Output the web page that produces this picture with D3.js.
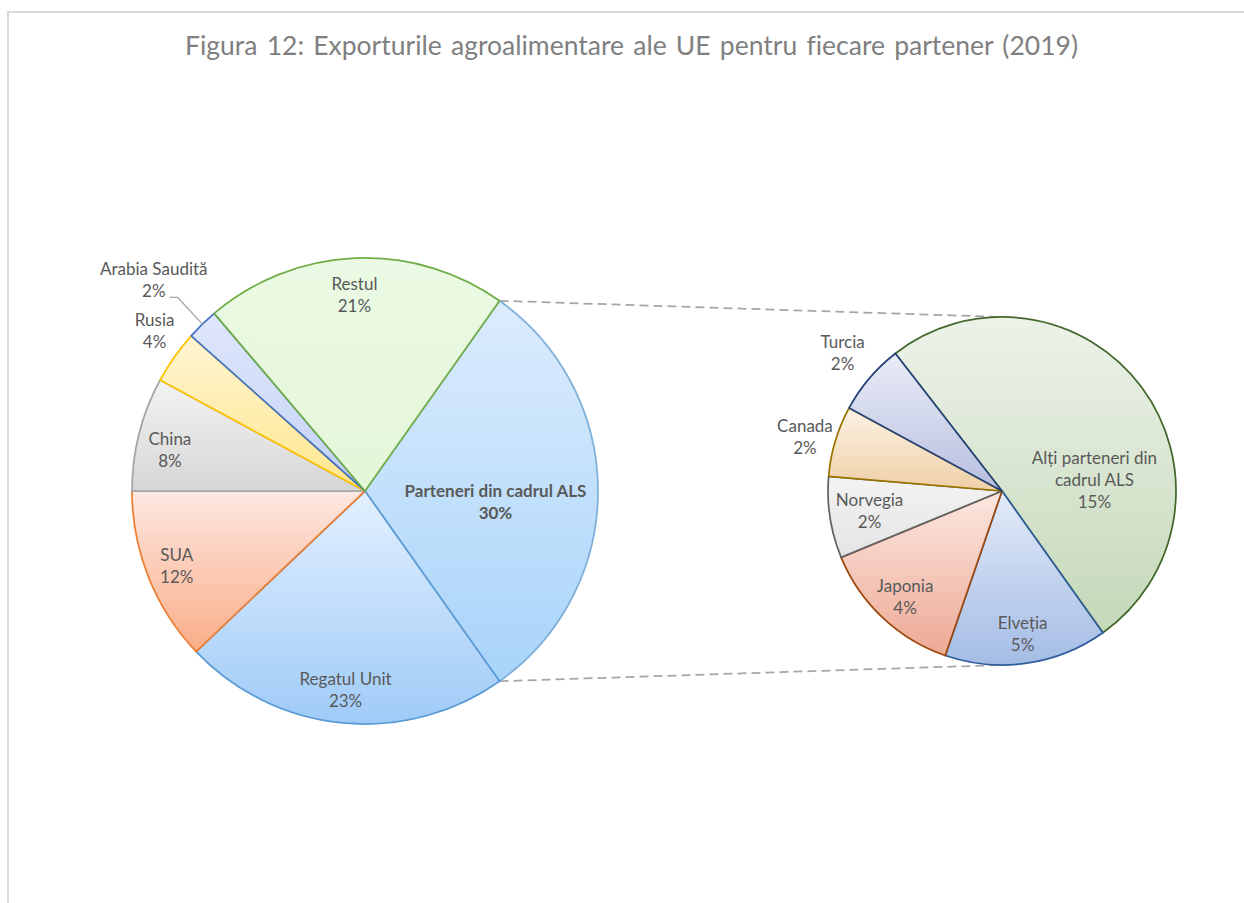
<!DOCTYPE html>
<html>
<head>
<meta charset="utf-8">
<script src="https://cdn.jsdelivr.net/npm/d3@7"></script>
<style>
  body { margin: 0; background: #fff; }
  svg { display: block; font-family: Lato, "Open Sans", sans-serif; font-variant-ligatures: none; }
</style>
</head>
<body>
<svg id="chart"></svg>
<script>
// main pie: EU agri-food exports by partner (2019), % of total
var mainNames  = ["Parteneri din cadrul ALS", "Regatul Unit", "SUA", "China", "Rusia", "Arabia Saudită", "Restul"];
var mainValues = [30.4, 22.7, 12.1, 7.9, 3.7, 2.2, 21.0];

// second pie: breakdown of the FTA partners slice
var subNames  = ["Alți parteneri din cadrul ALS", "Elveția", "Japonia", "Norvegia", "Canada", "Turcia"];
var subValues = [15.4, 4.6, 4.1, 2.3, 2.0, 2.0];

var title = "Figura 12: Exporturile agroalimentare ale UE pentru fiecare partener (2019)";

var width = 1244, height = 903;

// fill gradients (top, bottom) and border colour per slice
var style = {
	"Parteneri din cadrul ALS": ["#dcecfd", "#a8d4fa", "#7fb0da"],
	"Regatul Unit":   ["#e3f0ff", "#9fcbf7", "#5b9bd5"],
	"SUA":            ["#fee8e1", "#f9ad88", "#ed7d31"],
	"China":          ["#f3f3f3", "#d6d6d6", "#a5a5a5"],
	"Rusia":          ["#fff5d2", "#ffe68c", "#ffc000"],
	"Arabia Saudită": ["#dfe7fb", "#c3d1f5", "#4472c4"],
	"Restul":         ["#ebfae4", "#e4f6d8", "#70ad47"],
	"Alți parteneri din cadrul ALS": ["#edf2e9", "#c4d8b8", "#43682b"],
	"Elveția":  ["#e3ebf8", "#a4bce5", "#2e5d9a"],
	"Japonia":  ["#fce7e1", "#eda994", "#9e480e"],
	"Norvegia": ["#f3f3f3", "#e4e4e4", "#636363"],
	"Canada":   ["#fcf2e4", "#efcfa6", "#997300"],
	"Turcia":   ["#eaecf7", "#b7bfdf", "#264478"]
};

// label placement: radius factor and small nudges
var labelPos = {
	"Parteneri din cadrul ALS": [0.56, 0, 11],
	"Regatul Unit": [0.857, 0, 0],
	"SUA": [0.87, 0, 0],
	"China": [0.855, -2, 8],
	"Rusia": [1.13, 5, -9],
	"Arabia Saudită": [1.28, -3, 3],
	"Restul": [0.84, -2, 0],
	"Alți parteneri din cadrul ALS": [0.54, 17, 45],
	"Elveția": [0.83, 0, 0],
	"Japonia": [0.82, 1, 2],
	"Norvegia": [0.77, 0, 0],
	"Canada": [1.17, -2, 4],
	"Turcia": [1.21, 1, -2]
};
var wrapLines = { "Alți parteneri din cadrul ALS": ["Alți parteneri din", "cadrul ALS"] };

var total = d3.sum(mainValues);
var mainData = mainNames.map(function(n, i){ return {name: n, value: mainValues[i]}; });
var subData  = subNames.map(function(n, i){ return {name: n, value: subValues[i]}; });

var svg = d3.select("#chart").attr("width", width).attr("height", height);
var defs = svg.append("defs");

Object.keys(style).forEach(function(k, i){
	var g = defs.append("linearGradient")
		.attr("id", "grad" + i)
		.attr("x1", 0).attr("y1", 0).attr("x2", 0).attr("y2", 1);
	g.append("stop").attr("offset", "0%").attr("stop-color", style[k][0]);
	g.append("stop").attr("offset", "100%").attr("stop-color", style[k][1]);
	style[k].grad = "url(#grad" + i + ")";
});

// chart frame
svg.append("rect")
	.attr("x", 8).attr("y", 12)
	.attr("width", width + 40).attr("height", height + 40)
	.attr("fill", "none").attr("stroke", "#d9d9d9").attr("stroke-width", 2);

var titleText = svg.append("text")
	.attr("x", 631.5).attr("y", 55)
	.attr("text-anchor", "middle")
	.attr("font-size", 26.5)
	.attr("fill", "#7f7f7f")
	.text(title);
var natural = titleText.node().getComputedTextLength();
var gaps = title.split(" ").length - 1;
titleText.attr("word-spacing", Math.max(0, (893 - natural) / gaps));

var rad = Math.PI / 180;
var alsAngle = 2 * Math.PI * mainValues[0] / total;
var mainStart = Math.PI / 2 - alsAngle / 2;
var subStart = -37.8 * rad;

var main = {cx: 365, cy: 491, r: 233};
var sub  = {cx: 1002, cy: 491, r: 174};

var mainArcs = d3.pie().sort(null).value(function(d){ return d.value; })
	.startAngle(mainStart).endAngle(mainStart + 2 * Math.PI)(mainData);
var subArcs = d3.pie().sort(null).value(function(d){ return d.value; })
	.startAngle(subStart).endAngle(subStart + 2 * Math.PI)(subData);

function polar(p, a, r){ return [p.cx + Math.sin(a) * r, p.cy - Math.cos(a) * r]; }

// connector lines between the pies
var als = mainArcs[0];
var conn = [
	[polar(main, als.startAngle, main.r), [sub.cx, sub.cy - sub.r]],
	[polar(main, als.endAngle, main.r), [sub.cx, sub.cy + sub.r]]
];
svg.selectAll("line.conn").data(conn).enter().append("line")
	.attr("class", "conn")
	.attr("x1", function(d){ return d[0][0]; }).attr("y1", function(d){ return d[0][1]; })
	.attr("x2", function(d){ return d[1][0]; }).attr("y2", function(d){ return d[1][1]; })
	.attr("stroke", "#a6a6a6").attr("stroke-width", 1.75).attr("stroke-dasharray", "9,5");

function drawPie(p, arcs){
	var arc = d3.arc().innerRadius(0).outerRadius(p.r);
	var g = svg.append("g").attr("transform", "translate(" + p.cx + "," + p.cy + ")");
	g.selectAll("path").data(arcs).enter().append("path")
		.attr("d", arc)
		.attr("fill", function(d){ return style[d.data.name].grad; })
		.attr("stroke", function(d){ return style[d.data.name][2]; })
		.attr("stroke-width", 1.75)
		.attr("stroke-linejoin", "round");

	arcs.forEach(function(d){
		var lp = labelPos[d.data.name];
		var mid = (d.startAngle + d.endAngle) / 2;
		var pos = polar(p, mid, p.r * lp[0]);
		var x = pos[0] + lp[1], y = pos[1] + lp[2];
		var lines = (wrapLines[d.data.name] || [d.data.name]).concat([Math.round(d.value / total * 100) + "%"]);
		var lh = 22;
		var t = svg.append("text")
			.attr("text-anchor", "middle")
			.attr("font-size", 17)
			.attr("fill", "#595959")
			.attr("font-weight", d.data.name == mainNames[0] ? "bold" : "normal");
		lines.forEach(function(s, i){
			t.append("tspan")
				.attr("x", x)
				.attr("y", y + (i - (lines.length - 1) / 2) * lh + 6)
				.text(s);
		});
		// leader line for the small outside label
		if (d.data.name == "Arabia Saudită") {
			var edge = polar(p, mid, p.r);
			svg.append("polyline")
				.attr("points", [edge, [x + 24, y + 17], [x + 16, y + 17]].map(function(q){ return q.join(","); }).join(" "))
				.attr("fill", "none").attr("stroke", "#a6a6a6").attr("stroke-width", 1.25);
		}
	});
}

drawPie(main, mainArcs);
drawPie(sub, subArcs);
</script>
</body>
</html>
